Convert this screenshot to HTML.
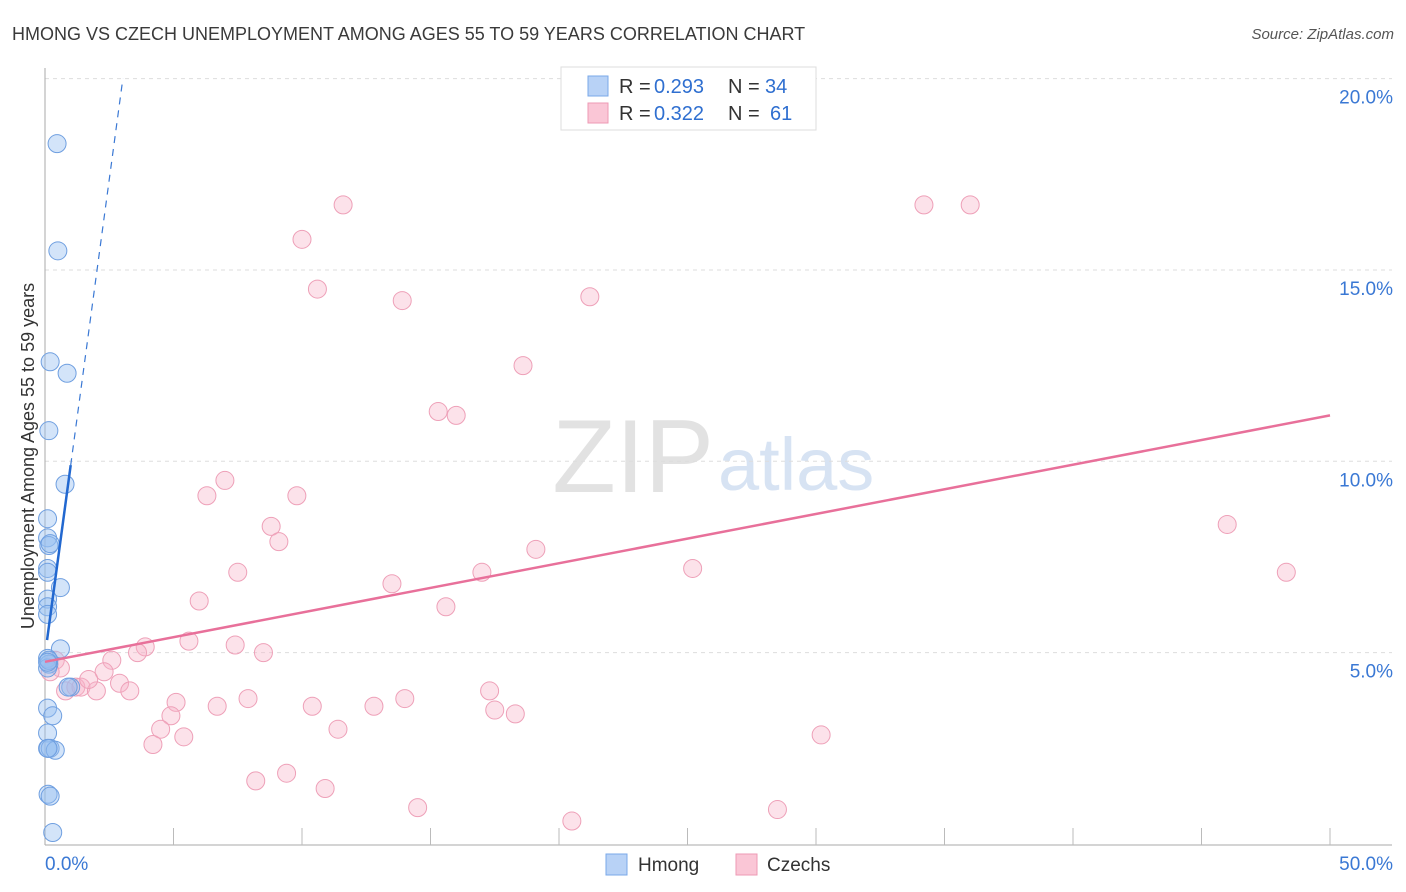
<!DOCTYPE html>
<html><head><meta charset="utf-8"><style>
body{margin:0;background:#fff;font-family:"Liberation Sans",sans-serif;}
#wrap{position:relative;width:1406px;height:892px;overflow:hidden}
svg text{font-family:"Liberation Sans",sans-serif}
</style></head><body>
<div id="wrap">
<svg id="svg" width="1406" height="892">
<text x="12" y="40" font-size="18" fill="#3a3a3a">HMONG VS CZECH UNEMPLOYMENT AMONG AGES 55 TO 59 YEARS CORRELATION CHART</text>
<text x="1394" y="39" font-size="15" fill="#555" text-anchor="end" font-style="italic">Source: ZipAtlas.com</text>
<text x="714" y="492" font-size="104" fill="#e2e2e2" text-anchor="end" font-family="Liberation Serif">ZIP</text>
<text x="718" y="490" font-size="74" fill="#d7e3f3">atlas</text>
<text transform="translate(34,456) rotate(-90)" font-size="18" fill="#333" text-anchor="middle">Unemployment Among Ages 55 to 59 years</text>
<g id="grid"></g><g id="pts"></g><g id="lines"></g>
<g>
<rect x="561" y="67" width="255" height="63" fill="#fff" stroke="#ddd"/>
<rect x="588" y="76" width="20" height="20" fill="#b8d2f6" stroke="#7aa8e8"/>
<rect x="588" y="103" width="20" height="20" fill="#fac6d6" stroke="#ee9ab4"/>
<text x="619" y="93" font-size="20" fill="#333">R =</text>
<text x="654" y="93" font-size="20" fill="#2f6fd0">0.293</text>
<text x="728" y="93" font-size="20" fill="#333">N =</text>
<text x="765" y="93" font-size="20" fill="#2f6fd0">34</text>
<text x="619" y="120" font-size="20" fill="#333">R =</text>
<text x="654" y="120" font-size="20" fill="#2f6fd0">0.322</text>
<text x="728" y="120" font-size="20" fill="#333">N =</text>
<text x="770" y="120" font-size="20" fill="#2f6fd0">61</text>
</g>
<g>
<rect x="606" y="854" width="21" height="21" fill="#b8d2f6" stroke="#7aa8e8"/>
<text x="638" y="871" font-size="19" fill="#333">Hmong</text>
<rect x="736" y="854" width="21" height="21" fill="#fac6d6" stroke="#ee9ab4"/>
<text x="767" y="871" font-size="19" fill="#333">Czechs</text>
</g>
</svg></div>
<script>
const yTicks=[5,10,15,20];
const yTickLabels=["5.0%","10.0%","15.0%","20.0%"];
const xTickLabels=["0.0%","50.0%"];
const hmongX=[0.47,0.5,0.2,0.86,0.15,0.78,0.1,0.1,0.15,0.2,0.1,0.1,0.6,0.1,0.1,0.1,0.6,0.1,0.15,0.1,1.0,0.9,0.1,0.3,0.1,0.1,0.2,0.4,0.12,0.2,0.3,0.15,0.1,0.12];
const hmongY=[18.3,15.5,12.6,12.3,10.8,9.4,8.5,8.0,7.8,7.85,7.2,7.1,6.7,6.4,6.2,6.0,5.1,4.85,4.7,4.6,4.1,4.1,3.55,3.35,2.9,2.5,2.5,2.45,1.3,1.25,0.3,4.8,4.75,2.5];
const czechX=[11.6,34.2,36.0,10.0,10.6,13.9,21.2,18.6,15.3,16.0,7.0,6.3,9.8,8.8,9.1,46.0,19.1,7.5,17.0,25.2,48.3,13.5,6.0,15.6,5.6,7.4,3.9,8.5,3.6,2.6,2.3,0.4,0.6,0.8,1.2,1.4,2.0,1.7,2.9,3.3,7.9,5.1,6.7,10.4,12.8,14.0,17.3,17.5,18.3,4.9,4.5,5.4,11.4,4.2,30.2,8.2,9.4,10.9,14.5,28.5,20.5,0.2];
const czechY=[16.7,16.7,16.7,15.8,14.5,14.2,14.3,12.5,11.3,11.2,9.5,9.1,9.1,8.3,7.9,8.35,7.7,7.1,7.1,7.2,7.1,6.8,6.35,6.2,5.3,5.2,5.15,5.0,5.0,4.8,4.5,4.8,4.6,4.0,4.1,4.1,4.0,4.3,4.2,4.0,3.8,3.7,3.6,3.6,3.6,3.8,4.0,3.5,3.4,3.35,3.0,2.8,3.0,2.6,2.85,1.65,1.85,1.45,0.95,0.9,0.6,4.5];
const pinkLine=[[0,4.76],[50,11.2]];
const blueSolid=[[0.08,5.33],[1.0,9.9]];
const blueDashEnd=[3.03,20];
const X=v=>45+v*25.7, Y=v=>844-v*38.27;
const NS="http://www.w3.org/2000/svg";
function mk(t,a,p){const e=document.createElementNS(NS,t);for(const k in a)e.setAttribute(k,a[k]);p.appendChild(e);return e;}
const svg=document.getElementById('svg'),grid=document.getElementById('grid'),pts=document.getElementById('pts'),lines=document.getElementById('lines');
yTicks.forEach((t,i)=>{
 const l=mk('line',{x1:45,x2:1392,y1:Y(t),y2:Y(t),stroke:'#ddd','stroke-dasharray':'4,4'},grid);
 
 
 const tx=mk('text',{x:1393,y:Y(t)+25,'font-size':19,fill:'#3a78d4','text-anchor':'end'},grid);tx.textContent=yTickLabels[i];
 
 
});
const ax=mk('line',{x1:45,x2:45,y1:68,y2:845,stroke:'#aaa'},grid);


const bx=mk('line',{x1:45,x2:1392,y1:845,y2:845,stroke:'#aaa'},grid);


for(let i=1;i<=10;i++){const t=mk('line',{x1:X(i*5),x2:X(i*5),y1:828,y2:845,stroke:'#bbb'},grid);
 
 }
[[0,'start',45],[50,'end',1393]].forEach((d,i)=>{const t=mk('text',{x:d[2],y:870,'font-size':19,fill:'#3a78d4','text-anchor':d[1]},grid);t.textContent=xTickLabels[i];
 
 });
czechX.forEach((x,i)=>{const c=mk('circle',{cx:X(x),cy:Y(czechY[i]),r:9,fill:'rgba(248,180,200,0.38)',stroke:'#eea0b8','stroke-width':1},pts);
 
 });
hmongX.forEach((x,i)=>{const c=mk('circle',{cx:X(x),cy:Y(hmongY[i]),r:9,fill:'rgba(150,190,240,0.42)',stroke:'#6f9fe0','stroke-width':1},pts);
 
 });
const pl=mk('line',{x1:X(pinkLine[0][0]),y1:Y(pinkLine[0][1]),x2:X(pinkLine[1][0]),y2:Y(pinkLine[1][1]),stroke:'#e8709a','stroke-width':2.5},lines);


const bd=mk('line',{x1:X(blueSolid[1][0]),y1:Y(blueSolid[1][1]),x2:X(blueDashEnd[0]),y2:Y(blueDashEnd[1]),stroke:'#3a78d4','stroke-width':1.2,'stroke-dasharray':'7,6'},lines);


const bs=mk('line',{x1:X(blueSolid[0][0]),y1:Y(blueSolid[0][1]),x2:X(blueSolid[1][0]),y2:Y(blueSolid[1][1]),stroke:'#2268d0','stroke-width':2.5},lines);


</script>
</body></html>
